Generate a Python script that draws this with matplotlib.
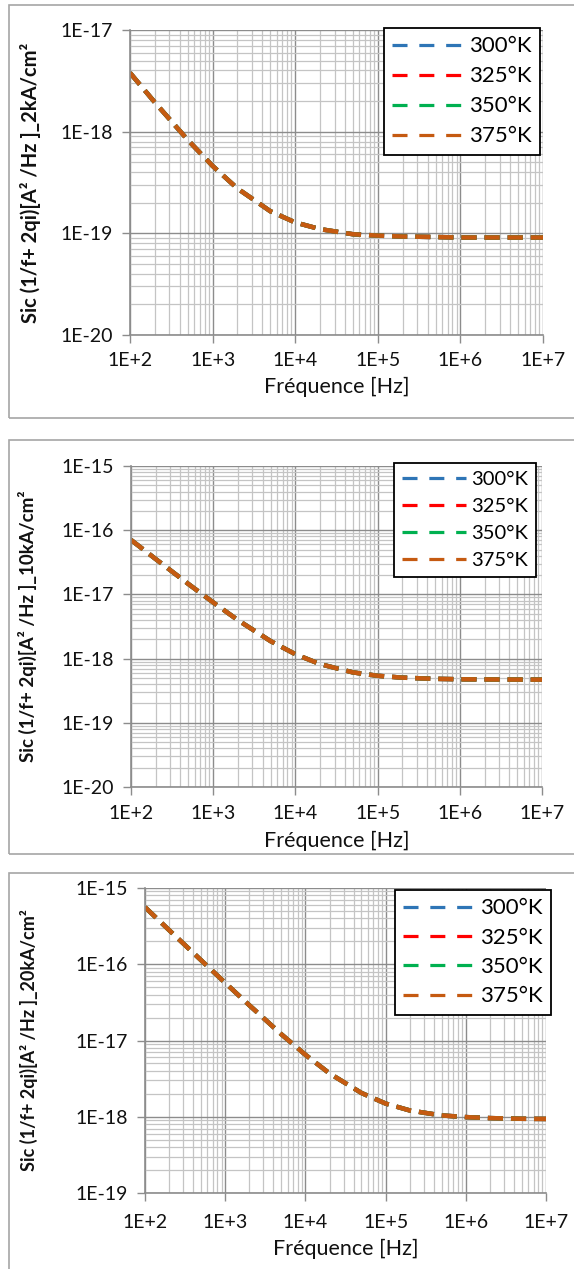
import numpy as np
import matplotlib
matplotlib.use('Agg')
import matplotlib.pyplot as plt
from matplotlib.patches import Rectangle
from matplotlib.ticker import LogLocator, FuncFormatter, NullFormatter

plt.rcParams['font.family'] = ['Lato', 'DejaVu Sans']

# frequencies [Hz]
freq = [1e2, 2e2, 5e2, 1e3, 2e3, 5e3, 1e4, 2e4, 5e4, 1e5, 2e5, 5e5, 1e6, 2e6, 5e6, 1e7]

# noise spectral density (all temperatures overlap)
s_2kA = [3.79e-18, 1.94e-18, 8.3e-19, 4.6e-19, 2.76e-19, 1.65e-19, 1.28e-19, 1.10e-19,
         9.8e-20, 9.5e-20, 9.3e-20, 9.2e-20, 9.1e-20, 9.1e-20, 9.1e-20, 9.1e-20]
s_10kA = [7.05e-17, 3.55e-17, 1.45e-17, 7.5e-18, 3.97e-18, 1.87e-18, 1.17e-18, 8.2e-19,
          6.1e-19, 5.4e-19, 5.05e-19, 4.84e-19, 4.77e-19, 4.74e-19, 4.71e-19, 4.70e-19]
s_20kA = [5.6e-16, 2.8e-16, 1.13e-16, 5.7e-17, 2.9e-17, 1.21e-17, 6.5e-18, 3.7e-18,
          2.05e-18, 1.49e-18, 1.21e-18, 1.04e-18, 9.9e-19, 9.6e-19, 9.4e-19, 9.36e-19]

temps = ['300°K', '325°K', '350°K', '375°K']
colors = ['#2E75B6', '#FF0000', '#00B050', '#C55A11']

W, H = 574, 1269
fig = plt.figure(figsize=(W / 100, H / 100), dpi=100)


def fx(px):
    return px / W


def fy(py):
    return 1 - py / H


def logfmt(v, pos):
    return '1E{:+d}'.format(int(round(np.log10(v))))


def panel(box, frame, data, ylim, ylabel, ylab_fs, ylab_x, leg_xy, leg_fs, leg_sp, xl_pad):
    # chart area frame (grey box around each chart)
    x0, y0, x1, y1 = frame
    fig.patches.append(Rectangle((fx(x0), fy(y1)), fx(x1 - x0), (y1 - y0) / H,
                                 transform=fig.transFigure, fill=False,
                                 edgecolor='#A6A6A6', lw=1.2))
    l, t, r, b = box
    ax = fig.add_axes([fx(l), fy(b), fx(r - l), (b - t) / H])
    ax.set_xscale('log')
    ax.set_yscale('log')
    ax.set_xlim(1e2, 1e7)
    ax.set_ylim(*ylim)
    for c, lab in zip(colors, temps):
        ax.plot(freq, data, color=c, lw=3.2, ls=(0, (3.4, 1.8)), label=lab)
    ax.xaxis.set_major_locator(LogLocator(base=10, numticks=20))
    ax.yaxis.set_major_locator(LogLocator(base=10, numticks=20))
    ax.xaxis.set_minor_locator(LogLocator(base=10, subs=np.arange(2, 10), numticks=20))
    ax.yaxis.set_minor_locator(LogLocator(base=10, subs=np.arange(2, 10), numticks=20))
    ax.xaxis.set_major_formatter(FuncFormatter(logfmt))
    ax.yaxis.set_major_formatter(FuncFormatter(logfmt))
    ax.xaxis.set_minor_formatter(NullFormatter())
    ax.yaxis.set_minor_formatter(NullFormatter())
    ax.grid(which='major', color='#8C8C8C', lw=1.0)
    ax.grid(which='minor', color='#C4C4C4', lw=0.9)
    ax.set_axisbelow(True)
    ax.tick_params(which='major', length=6, width=1, color='#8C8C8C',
                   labelsize=14, labelcolor='#111111')
    ax.tick_params(axis='x', which='major', pad=xl_pad)
    ax.tick_params(axis='y', which='major', pad=6)
    ax.tick_params(which='minor', length=0)
    for s in ['top', 'right']:
        ax.spines[s].set_visible(False)
    for s in ['left', 'bottom']:
        ax.spines[s].set_color('#8C8C8C')
        ax.spines[s].set_linewidth(1.2)
    ax.set_xlabel('Fréquence [Hz]', fontsize=15.5, color='#111111', labelpad=6)
    ax.set_ylabel(ylabel, fontsize=ylab_fs, fontweight='bold', color='#111111')
    ax.yaxis.set_label_coords(ylab_x, 0.5)
    leg = ax.legend(loc='upper left', bbox_to_anchor=(fx(leg_xy[0]), fy(leg_xy[1])),
                    bbox_transform=fig.transFigure, fontsize=leg_fs,
                    frameon=True, fancybox=False, edgecolor='black', framealpha=1,
                    handlelength=3.2, handletextpad=0.25, labelspacing=leg_sp,
                    borderpad=0.38, borderaxespad=0)
    leg.get_frame().set_linewidth(1.3)
    for ln in leg.get_lines():
        ln.set_linewidth(2.3)
        ln.set_dashes([4.7, 3.7])
    return ax


panel((130, 30, 543, 335), (9, 5, 580, 418), s_2kA, (1e-20, 1e-17),
      'Sic (1/f+ 2qi)[A² /Hz ]_2kA/cm²', 14.5, -0.215, (384, 28), 16, 0.45, 6)
panel((131, 466, 542, 787), (9, 440, 580, 854), s_10kA, (1e-20, 1e-15),
      'Sic (1/f+ 2qi)[A² /Hz ]_10kA/cm²', 13.5, -0.229, (394, 463), 14.5, 0.5, 7)
panel((145, 888, 546, 1193), (9, 873, 580, 1280), s_20kA, (1e-19, 1e-15),
      'Sic (1/f+ 2qi)[A² /Hz ]_20kA/cm²', 13, -0.267, (395, 890), 16, 0.42, 9)

fig.savefig('out.png', dpi=100)
